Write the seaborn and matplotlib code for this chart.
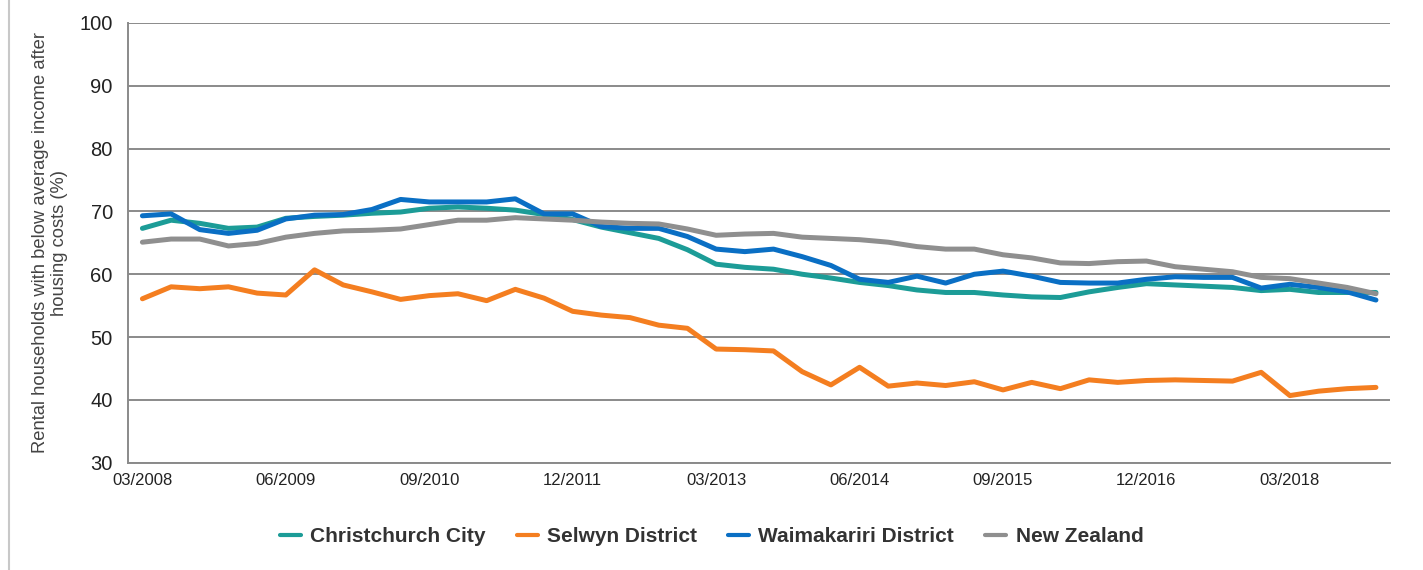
import pandas as pd
import numpy as np
import matplotlib.pyplot as plt
import seaborn as sns
from matplotlib.lines import Line2D

# quarterly, 03/2008 .. 12/2018
quarters = pd.period_range("2008Q1", "2018Q4", freq="Q")
quarter_labels = [f"{q.quarter * 3:02d}/{q.year}" for q in quarters]

christchurch = [67.3, 68.6, 68.1, 67.3, 67.5, 68.9, 69.2, 69.4, 69.7, 69.9,
                70.5, 70.7, 70.5, 70.2, 69.5, 68.7, 67.5, 66.6, 65.7, 63.9,
                61.6, 61.1, 60.8, 60.0, 59.4, 58.7, 58.2, 57.5, 57.1, 57.1,
                56.7, 56.4, 56.3, 57.2, 57.9, 58.5, 58.3, 58.1, 57.9, 57.4,
                57.6, 57.1, 57.1, 57.1]
selwyn = [56.1, 58.0, 57.7, 58.0, 57.0, 56.7, 60.7, 58.3, 57.2, 56.0,
          56.6, 56.9, 55.8, 57.6, 56.2, 54.1, 53.5, 53.1, 51.9, 51.4,
          48.1, 48.0, 47.8, 44.5, 42.4, 45.2, 42.2, 42.7, 42.3, 42.9,
          41.6, 42.8, 41.8, 43.2, 42.8, 43.1, 43.2, 43.1, 43.0, 44.4,
          40.7, 41.4, 41.8, 42.0]
waimakariri = [69.3, 69.6, 67.1, 66.5, 67.0, 68.8, 69.4, 69.5, 70.3, 71.9,
               71.5, 71.5, 71.5, 72.0, 69.6, 69.6, 67.6, 67.3, 67.3, 66.0,
               64.0, 63.6, 64.0, 62.8, 61.4, 59.2, 58.7, 59.7, 58.6, 60.0,
               60.5, 59.7, 58.7, 58.6, 58.6, 59.2, 59.6, 59.5, 59.5, 57.8,
               58.4, 57.9, 57.2, 55.9]
new_zealand = [65.1, 65.6, 65.6, 64.5, 64.9, 65.9, 66.5, 66.9, 67.0, 67.2,
               67.9, 68.6, 68.6, 69.0, 68.8, 68.6, 68.3, 68.1, 68.0, 67.2,
               66.2, 66.4, 66.5, 65.9, 65.7, 65.5, 65.1, 64.4, 64.0, 64.0,
               63.1, 62.6, 61.8, 61.7, 62.0, 62.1, 61.2, 60.8, 60.4, 59.5,
               59.3, 58.6, 57.9, 56.9]

series = {
    "Christchurch City": christchurch,
    "Selwyn District": selwyn,
    "Waimakariri District": waimakariri,
    "New Zealand": new_zealand,
}
colors = ["#1c9c97", "#f47e20", "#0a6fc4", "#8f8f8f"]

df = pd.concat(
    [pd.DataFrame({"idx": np.arange(len(quarters)), "value": v, "area": k})
     for k, v in series.items()],
    ignore_index=True,
)

sns.set_style("white")
plt.rcParams['font.family'] = ['Liberation Sans', 'DejaVu Sans']

fig = plt.figure(figsize=(14.23, 5.70), dpi=100)
ax = fig.add_axes([0.09, 0.188, 0.887, 0.772])

sns.lineplot(data=df, x="idx", y="value", hue="area", hue_order=list(series),
             palette=colors, linewidth=3.6, ax=ax, legend=False, zorder=3)

ax.set_xlim(-0.5, len(quarters) - 0.5)
ax.set_ylim(30, 100)
ax.set_yticks(range(30, 101, 10))
ax.grid(axis="y", color="#8a8a8a", linewidth=1.4, zorder=0)
ax.set_axisbelow(True)
tick_pos = list(range(0, len(quarters), 5))
ax.set_xticks(tick_pos)
ax.set_xticklabels([quarter_labels[i] for i in tick_pos], fontsize=12, color="#222222")
ax.tick_params(axis="y", labelsize=14.5, colors="#222222", length=8, width=1.4,
               color="#8a8a8a", pad=3)
ax.tick_params(axis="x", length=6, width=1.2, color="#8a8a8a", pad=1)
for side in ["top", "right"]:
    ax.spines[side].set_visible(False)
for side in ["left", "bottom"]:
    ax.spines[side].set_color("#8a8a8a")
    ax.spines[side].set_linewidth(1.4)

ax.set_xlabel("")
ax.set_ylabel("Rental households with below average income after\nhousing costs (%)",
              fontsize=13.2, color="#444444", labelpad=8)

handles = [Line2D([0], [0], color=c, linewidth=3) for c in colors]
fig.legend(handles, list(series), loc="center", bbox_to_anchor=(0.5, 0.058),
           ncol=4, frameon=False, handlelength=1.0, handletextpad=0.45,
           columnspacing=1.5, prop={"weight": "bold", "size": 15},
           labelcolor="#333333")

# left frame edge
fig.add_artist(Line2D([0.0065, 0.0065], [0, 1], color="#c8c8c8", linewidth=1.5))

fig.savefig("out.png", dpi=100)
